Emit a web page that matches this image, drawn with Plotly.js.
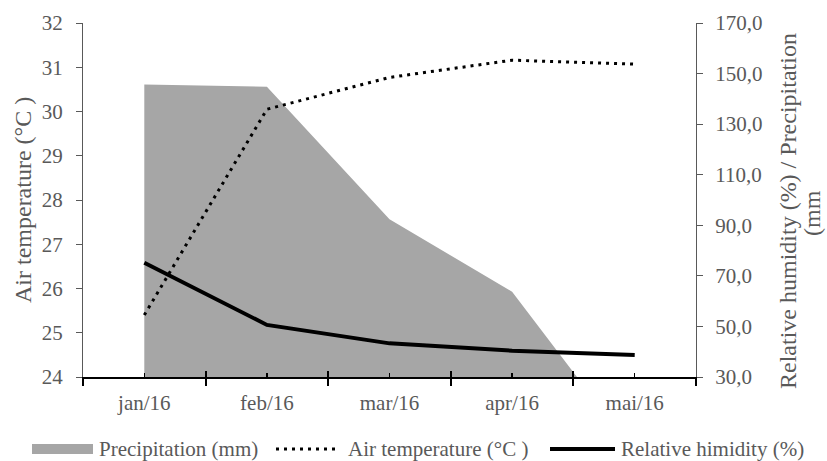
<!DOCTYPE html>
<html>
<head>
<meta charset="utf-8">
<script src="https://cdn.plot.ly/plotly-3.0.1.min.js"></script>
<style>html,body{margin:0;padding:0;background:#fff;}#chart{width:827px;height:461px;}</style>
</head>
<body>
<div id="chart"></div>
<script>
var categories = ['jan/16', 'feb/16', 'mar/16', 'apr/16', 'mai/16'];
var precipitation = [145.7, 144.8, 92.4, 63.7, 0];
var airTemperature = [25.40, 30.05, 30.77, 31.16, 31.07];
var relativeHumidity = [75.2, 50.6, 43.3, 40.4, 38.7];
var seriesNames = ['Precipitation (mm)', 'Air temperature (°C )', 'Relative himidity (%)'];
var leftTitle = 'Air temperature (°C )';
var rightTitleLines = ['Relative humidity (%) / Precipitation', '(mm'];

var FONT = 'Times New Roman, Liberation Serif, Tinos, DejaVu Serif, serif';
var GREY = '#595959';
var W = 827, H = 461;
var M = {l: 83, r: 131, t: 23, b: 84};
var PW = W - M.l - M.r, PH = H - M.t - M.b;
function px(x) { return (x - M.l) / PW; }
function py(y) { return (H - M.b - y) / PH; }

var centerIdx = categories.map(function (c, i) { return i; });
var boundaryIdx = [-0.5].concat(categories.map(function (c, i) { return i + 0.5; }));

var traces = [
  {
    x: categories, y: precipitation, xaxis: 'x', yaxis: 'y', type: 'scatter', mode: 'lines',
    name: seriesNames[0], fill: 'tozeroy', fillcolor: '#a6a6a6',
    line: {width: 0, color: '#a6a6a6'}, hoverinfo: 'skip'
  },
  {
    x: categories, y: relativeHumidity, xaxis: 'x', yaxis: 'y', type: 'scatter', mode: 'lines',
    name: seriesNames[2], line: {color: '#000000', width: 4}
  },
  {
    x: categories, y: airTemperature, xaxis: 'x', yaxis: 'y2', type: 'scatter', mode: 'lines',
    name: seriesNames[1], line: {color: '#000000', width: 3, dash: '3px,5px'}
  },
  {x: [0], y: [30], xaxis: 'x2', yaxis: 'y', mode: 'markers', marker: {opacity: 0}, hoverinfo: 'skip'},
  {x: [0], y: [30], xaxis: 'x3', yaxis: 'y', mode: 'markers', marker: {opacity: 0}, hoverinfo: 'skip'}
];

var legendY = 449;
var shapes = [
  {type: 'rect', xref: 'paper', yref: 'paper', x0: px(32), x1: px(93), y0: py(454), y1: py(444),
   fillcolor: '#a6a6a6', line: {width: 0}},
  {type: 'line', xref: 'paper', yref: 'paper', x0: px(276), x1: px(339), y0: py(legendY), y1: py(legendY),
   line: {color: '#000000', width: 3, dash: '3px,5px'}},
  {type: 'line', xref: 'paper', yref: 'paper', x0: px(550), x1: px(615), y0: py(legendY), y1: py(legendY),
   line: {color: '#000000', width: 4}}
];

var annotations = [
  {xref: 'paper', yref: 'paper', x: px(97), y: py(legendY), xanchor: 'left', yanchor: 'middle',
   text: seriesNames[0], showarrow: false, font: {family: FONT, size: 21, color: GREY}},
  {xref: 'paper', yref: 'paper', x: px(346), y: py(legendY), xanchor: 'left', yanchor: 'middle',
   text: seriesNames[1], showarrow: false, font: {family: FONT, size: 21, color: GREY}},
  {xref: 'paper', yref: 'paper', x: px(619), y: py(legendY), xanchor: 'left', yanchor: 'middle',
   text: seriesNames[2], showarrow: false, font: {family: FONT, size: 21, color: GREY}},
  {xref: 'paper', yref: 'paper', x: px(23), y: py(200), xanchor: 'center', yanchor: 'middle', textangle: -90,
   text: leftTitle, showarrow: false, font: {family: FONT, size: 24, color: GREY}},
  {xref: 'paper', yref: 'paper', x: px(788), y: py(211), xanchor: 'center', yanchor: 'middle', textangle: -90,
   text: rightTitleLines[0], showarrow: false, font: {family: FONT, size: 24, color: GREY}},
  {xref: 'paper', yref: 'paper', x: px(812), y: py(213), xanchor: 'center', yanchor: 'middle', textangle: -90,
   text: rightTitleLines[1], showarrow: false, font: {family: FONT, size: 24, color: GREY}}
];

var layout = {
  width: W, height: H,
  margin: {l: M.l, r: M.r, t: M.t, b: M.b, autoexpand: false},
  paper_bgcolor: '#ffffff', plot_bgcolor: 'rgba(0,0,0,0)',
  font: {family: FONT, size: 21, color: GREY},
  separators: ',.',
  showlegend: false,
  shapes: shapes,
  annotations: annotations,
  xaxis: {
    type: 'category', range: [-0.5, 4.5], tickson: 'boundaries',
    ticks: 'outside', ticklen: 7, tickwidth: 2, tickcolor: '#000000', ticklabelstandoff: 6,
    showline: true, linecolor: '#000000', linewidth: 2, showgrid: false, zeroline: false,
    tickfont: {family: FONT, size: 21, color: GREY}
  },
  xaxis2: {
    overlaying: 'x', anchor: 'y', side: 'bottom', range: [-0.5, 4.5],
    tickmode: 'array', tickvals: centerIdx, ticks: 'inside', ticklen: 4, tickwidth: 1.5,
    tickcolor: '#000000', showticklabels: false, showline: false, showgrid: false, zeroline: false
  },
  xaxis3: {
    overlaying: 'x', anchor: 'y', side: 'bottom', range: [-0.5, 4.5],
    tickmode: 'array', tickvals: boundaryIdx, ticks: 'inside', ticklen: 6, tickwidth: 2,
    tickcolor: '#000000', showticklabels: false, showline: false, showgrid: false, zeroline: false
  },
  yaxis: {
    side: 'right', range: [30, 170], tick0: 30, dtick: 20, tickformat: '.1f',
    ticks: 'outside', ticklen: 6, tickwidth: 1, tickcolor: '#595959', ticklabelstandoff: 8,
    showline: true, linecolor: '#595959', linewidth: 1, showgrid: false, zeroline: false,
    tickfont: {family: FONT, size: 21, color: GREY}
  },
  yaxis2: {
    overlaying: 'y', side: 'left', anchor: 'x', range: [24, 32], tick0: 24, dtick: 1,
    ticks: 'outside', ticklen: 6, tickwidth: 1, tickcolor: '#595959', ticklabelstandoff: 9,
    showline: true, linecolor: '#595959', linewidth: 1, showgrid: false, zeroline: false,
    tickfont: {family: FONT, size: 21, color: GREY}
  }
};

Plotly.newPlot('chart', traces, layout, {displayModeBar: false, staticPlot: true});
</script>
</body>
</html>
